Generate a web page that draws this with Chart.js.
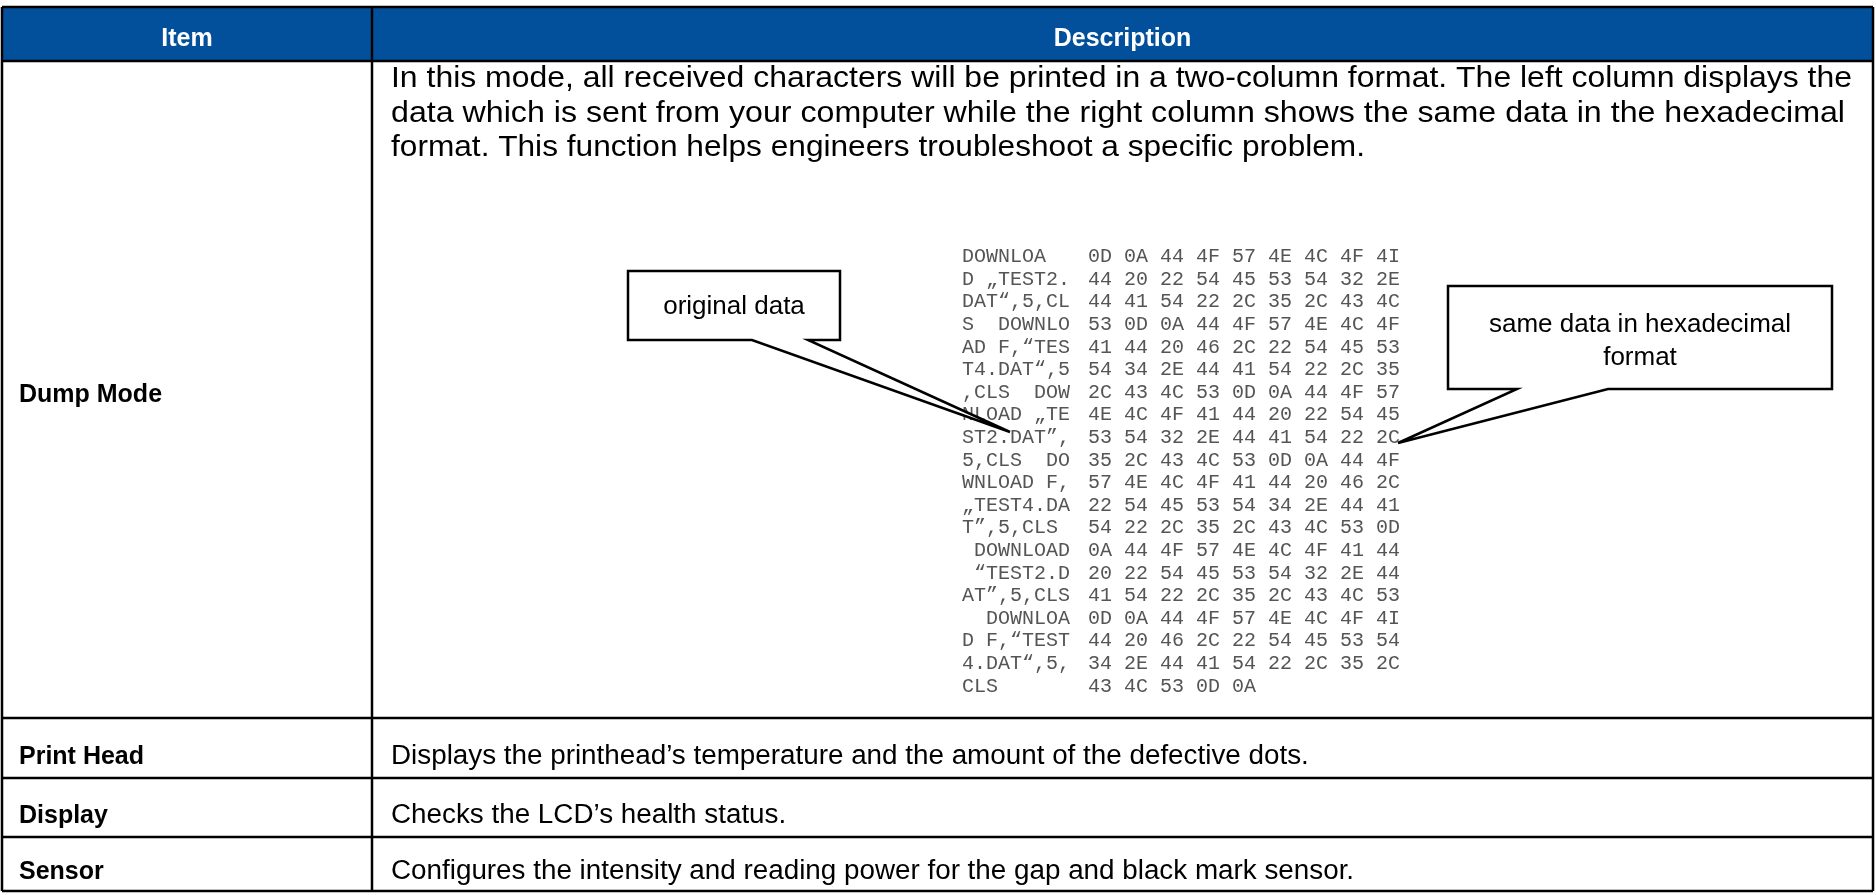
<!DOCTYPE html>
<html>
<head>
<meta charset="utf-8">
<script src="https://cdn.jsdelivr.net/npm/chart.js@4.4.1/dist/chart.umd.min.js"></script>
<style>
  html, body { margin: 0; padding: 0; background: #fff; }
  #tableChart { display: block; }
</style>
</head>
<body>
<canvas id="tableChart" width="1876" height="895"></canvas>
<script>
// table content
const headers = ["Item", "Description"];
const items = ["Dump Mode", "Print Head", "Display", "Sensor"];
const dumpIntro = [
  "In this mode, all received characters will be printed in a two-column format. The left column displays the",
  "data which is sent from your computer while the right column shows the same data in the hexadecimal",
  "format. This function helps engineers troubleshoot a specific problem."
];
const descriptions = [
  null,
  "Displays the printhead\u2019s temperature and the amount of the defective dots.",
  "Checks the LCD\u2019s health status.",
  "Configures the intensity and reading power for the gap and black mark sensor."
];
const dumpChars = [
  "DOWNLOA", "D \u201ETEST2.", "DAT\u201C,5,CL", "S  DOWNLO", "AD F,\u201CTES",
  "T4.DAT\u201C,5", ",CLS  DOW", "NLOAD \u201ETE", "ST2.DAT\u201D,", "5,CLS  DO",
  "WNLOAD F,", "\u201ETEST4.DA", "T\u201D,5,CLS", " DOWNLOAD", " \u201CTEST2.D",
  "AT\u201D,5,CLS", "  DOWNLOA", "D F,\u201CTEST", "4.DAT\u201C,5,", "CLS"
];
const dumpHex = [
  "0D 0A 44 4F 57 4E 4C 4F 4I", "44 20 22 54 45 53 54 32 2E", "44 41 54 22 2C 35 2C 43 4C",
  "53 0D 0A 44 4F 57 4E 4C 4F", "41 44 20 46 2C 22 54 45 53", "54 34 2E 44 41 54 22 2C 35",
  "2C 43 4C 53 0D 0A 44 4F 57", "4E 4C 4F 41 44 20 22 54 45", "53 54 32 2E 44 41 54 22 2C",
  "35 2C 43 4C 53 0D 0A 44 4F", "57 4E 4C 4F 41 44 20 46 2C", "22 54 45 53 54 34 2E 44 41",
  "54 22 2C 35 2C 43 4C 53 0D", "0A 44 4F 57 4E 4C 4F 41 44", "20 22 54 45 53 54 32 2E 44",
  "41 54 22 2C 35 2C 43 4C 53", "0D 0A 44 4F 57 4E 4C 4F 4I", "44 20 46 2C 22 54 45 53 54",
  "34 2E 44 41 54 22 2C 35 2C", "43 4C 53 0D 0A"
];
const calloutLeft = ["original data"];
const calloutRight = ["same data in hexadecimal", "format"];

// layout (pixel units on the hidden linear scales)
const W = 1876, H = 895;
const colEdges = [2, 372, 1873];
const rowEdges = [7, 61, 718, 778, 837, 891];
const rowBaselines = [402, 764, 823, 879];
const introBaselines = [87, 121.5, 156];
const introEnds = [1852, 1845, 1365];   // right end of each wrapped line
const descStretch = 1.03;
const textPad = 17;
const monoTop = 257, monoStep = 22.6, monoLeftX = 962, monoHexX = 1088;
const HEADER_BLUE = "#02509b";

const SANS = '"Liberation Sans", Arial, sans-serif';
const MONO = '"Liberation Mono", "Courier New", monospace';

const calloutBoxes = [
  { box: [628, 271, 840, 340], base: [752, 808], tip: [1010, 432], lines: calloutLeft, y0: 314, step: 0 },
  { box: [1448, 286, 1832, 389], base: [1517, 1608], tip: [1398, 443], lines: calloutRight, y0: 332, step: 33 }
];

function stretchText(c, text, x, y, sx) {
  c.save();
  c.translate(x, y);
  c.scale(sx, 1);
  c.fillText(text, 0, 0);
  c.restore();
}

const tablePlugin = {
  id: "tablePlugin",
  afterDraw(chart) {
    const c = chart.ctx;
    const sx = chart.scales.x, sy = chart.scales.y;
    const px = (v) => sx.getPixelForValue(v);
    const py = (v) => sy.getPixelForValue(v);
    c.save();

    // header band
    c.fillStyle = HEADER_BLUE;
    c.fillRect(px(colEdges[0]), py(rowEdges[0]), px(colEdges[2]) - px(colEdges[0]), py(rowEdges[1]) - py(rowEdges[0]));
    c.fillStyle = "#fff";
    c.font = "bold 25px " + SANS;
    c.textAlign = "center";
    c.textBaseline = "alphabetic";
    headers.forEach((h, i) => {
      c.fillText(h, (px(colEdges[i]) + px(colEdges[i + 1])) / 2, py(46));
    });

    // item names
    c.fillStyle = "#000";
    c.textAlign = "left";
    c.font = "bold 25px " + SANS;
    items.forEach((it, i) => c.fillText(it, px(colEdges[0] + textPad), py(rowBaselines[i])));

    // descriptions
    const dx = px(colEdges[1] + textPad + 2);
    c.font = "29px " + SANS;
    dumpIntro.forEach((t, i) => {
      const w = c.measureText(t).width;
      stretchText(c, t, dx, py(introBaselines[i]), (px(introEnds[i]) - dx) / w);
    });
    c.font = "27px " + SANS;
    descriptions.forEach((d, i) => {
      if (d) stretchText(c, d, dx, py(rowBaselines[i]), descStretch);
    });

    // dump sample
    c.fillStyle = "#555";
    c.font = "20px " + MONO;
    c.textBaseline = "middle";
    dumpChars.forEach((t, i) => c.fillText(t, px(monoLeftX), py(monoTop + i * monoStep)));
    dumpHex.forEach((t, i) => c.fillText(t, px(monoHexX), py(monoTop + i * monoStep)));

    // grid lines
    c.strokeStyle = "#000";
    c.lineWidth = 2.5;
    rowEdges.forEach((r) => {
      c.beginPath();
      c.moveTo(px(colEdges[0]), py(r));
      c.lineTo(px(colEdges[2]), py(r));
      c.stroke();
    });
    colEdges.forEach((cx) => {
      c.beginPath();
      c.moveTo(px(cx), py(rowEdges[0]));
      c.lineTo(px(cx), py(rowEdges[rowEdges.length - 1]));
      c.stroke();
    });

    // callouts
    calloutBoxes.forEach((cb) => {
      const [x0, y0, x1, y1] = cb.box;
      c.beginPath();
      c.moveTo(px(x0), py(y0));
      c.lineTo(px(x1), py(y0));
      c.lineTo(px(x1), py(y1));
      c.lineTo(px(cb.base[1]), py(y1));
      c.lineTo(px(cb.tip[0]), py(cb.tip[1]));
      c.lineTo(px(cb.base[0]), py(y1));
      c.lineTo(px(x0), py(y1));
      c.closePath();
      c.fillStyle = "#fff";
      c.fill();
      c.lineJoin = "miter";
      c.lineWidth = 2.5;
      c.stroke();
      c.fillStyle = "#000";
      c.font = "26px " + SANS;
      c.textAlign = "center";
      c.textBaseline = "alphabetic";
      cb.lines.forEach((l, i) => c.fillText(l, (px(x0) + px(x1)) / 2, py(cb.y0 + i * cb.step)));
      c.textAlign = "left";
    });

    c.restore();
  }
};

new Chart(document.getElementById("tableChart"), {
  type: "scatter",
  data: { datasets: [] },
  options: {
    responsive: false,
    animation: false,
    layout: { padding: 0 },
    plugins: { legend: { display: false }, tooltip: { enabled: false } },
    scales: {
      x: { type: "linear", min: 0, max: W, display: false },
      y: { type: "linear", min: 0, max: H, reverse: true, display: false }
    }
  },
  plugins: [tablePlugin]
});
</script>
</body>
</html>
